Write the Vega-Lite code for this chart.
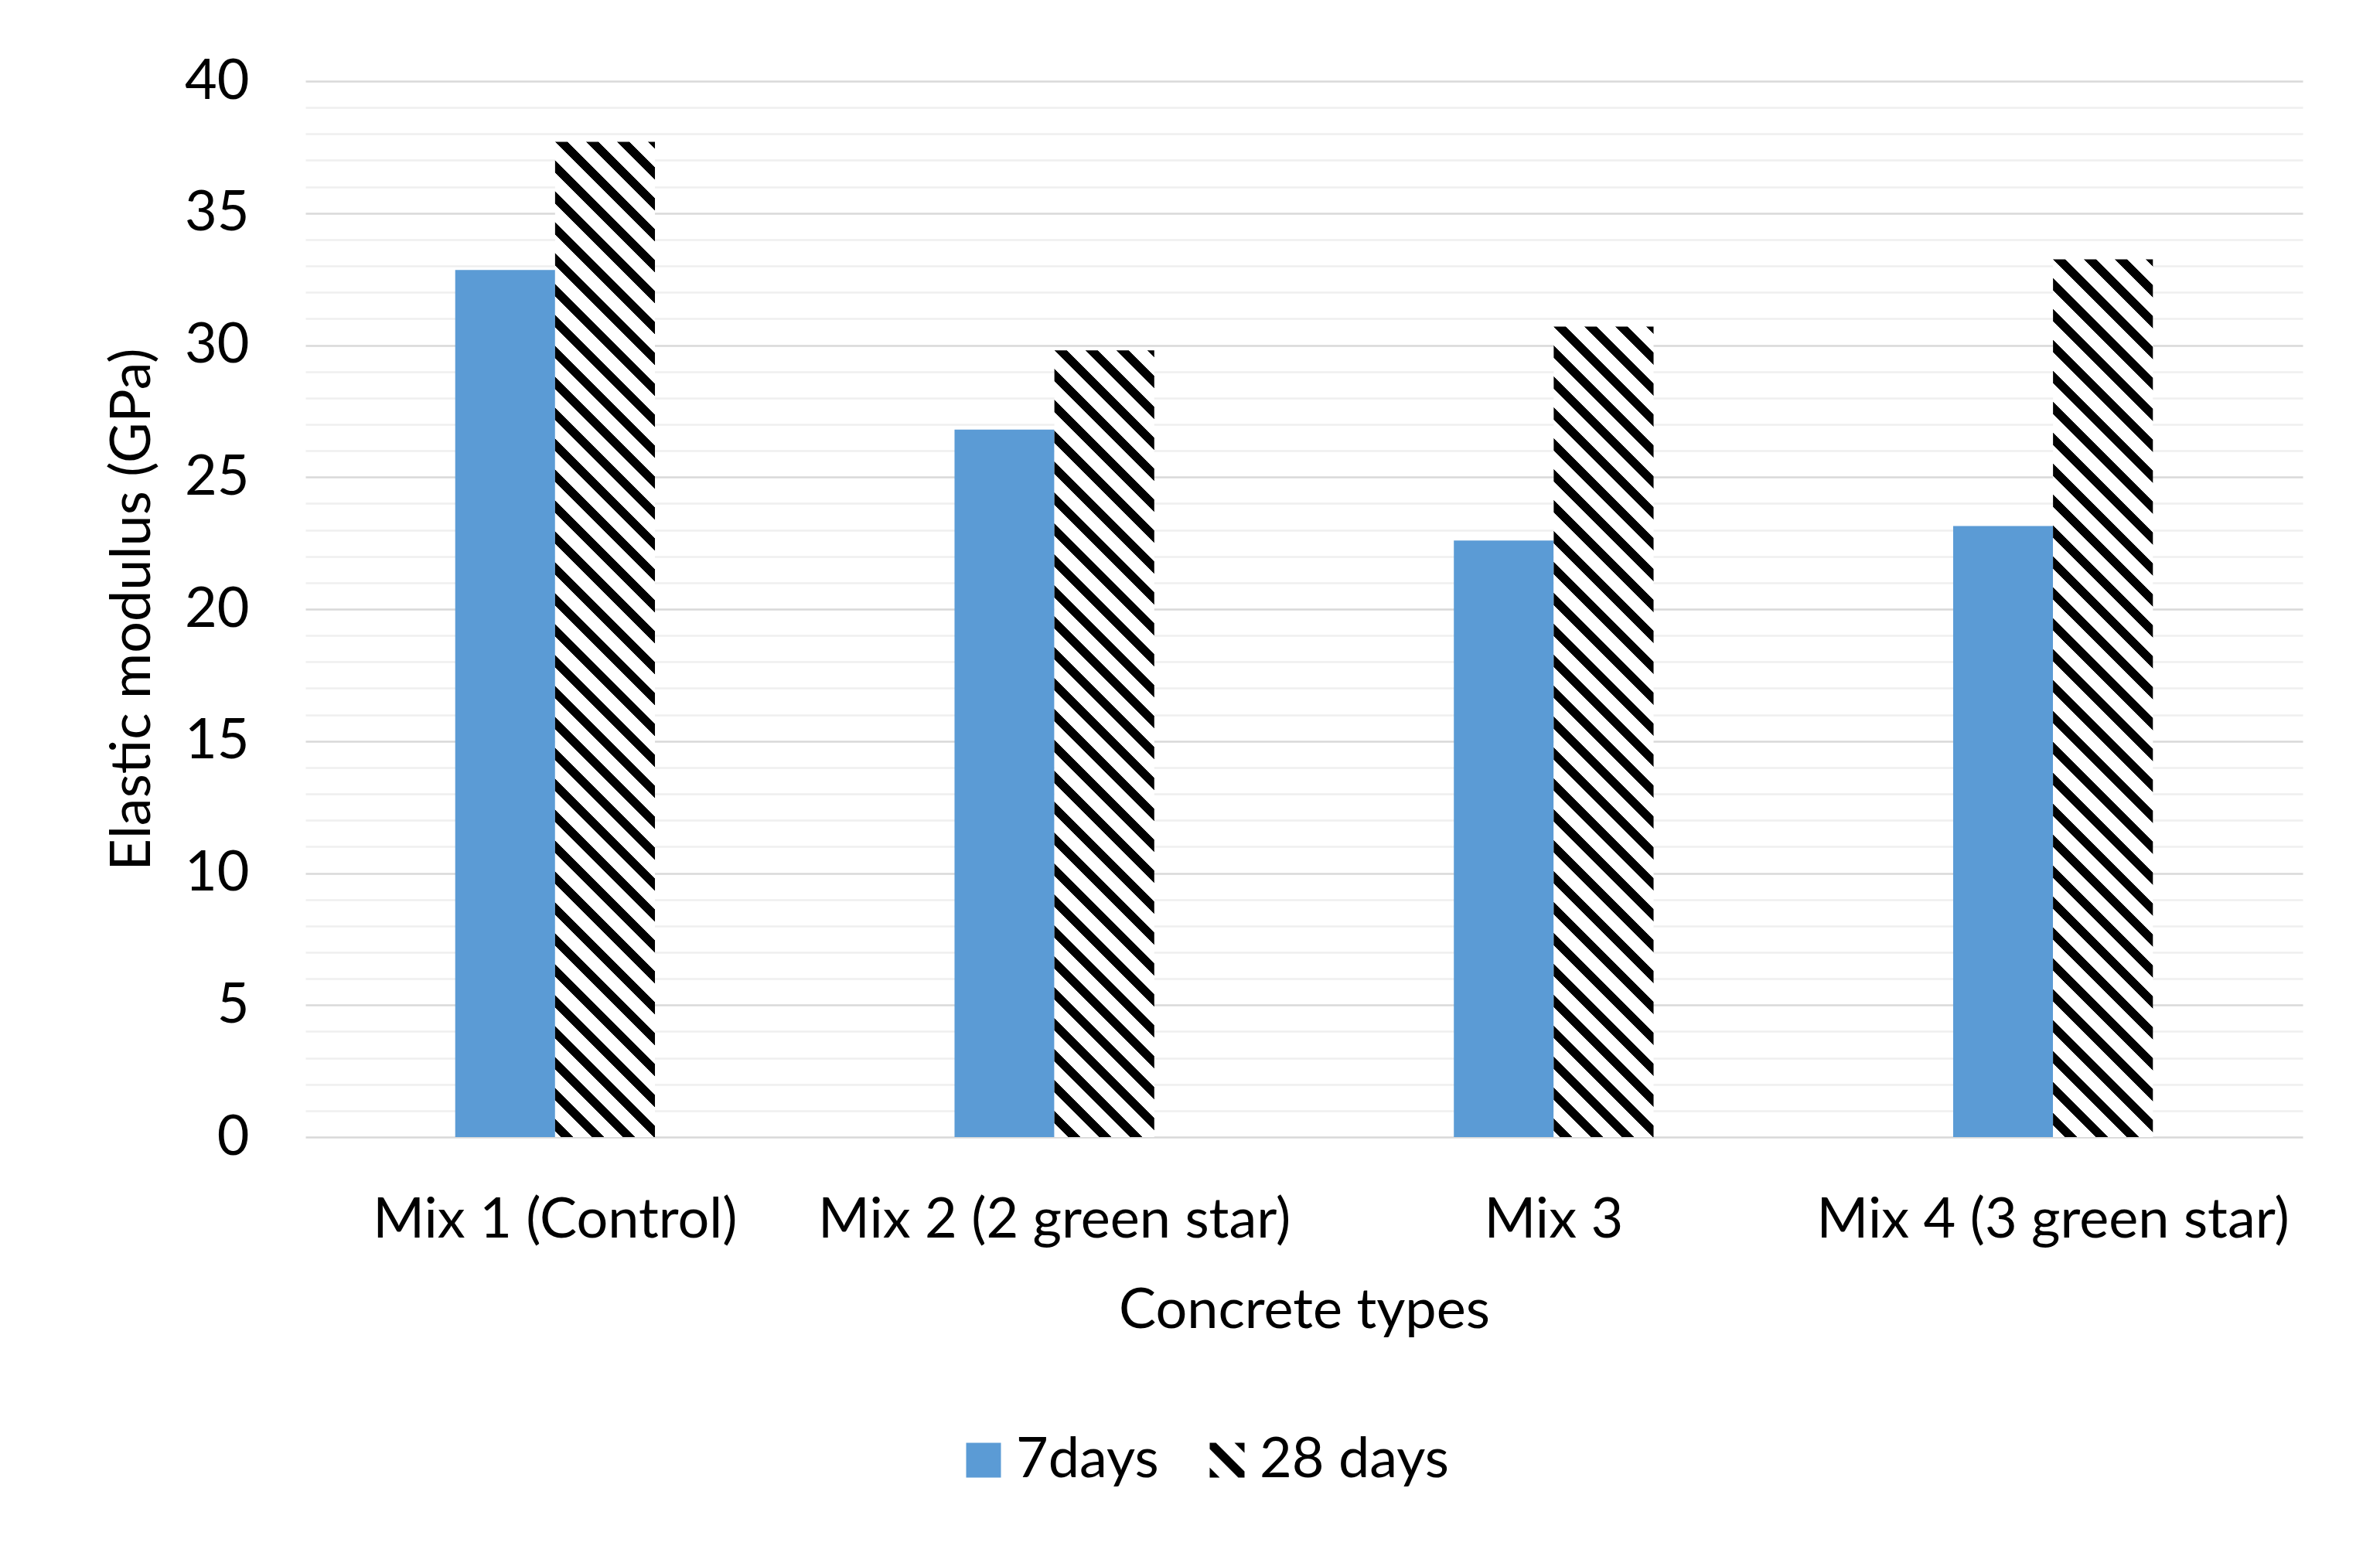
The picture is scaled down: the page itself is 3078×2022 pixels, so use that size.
{
  "$schema": "https://vega.github.io/schema/vega-lite/v6.json",
  "autosize": {"type": "none"},
  "padding": {"left": 395, "top": 105, "right": 100, "bottom": 551},
  "width": 2583,
  "height": 1366,
  "config": {
    "font": "Lato",
    "view": {"stroke": null},
    "axis": {"labelColor": "#000", "titleColor": "#000", "titleFontWeight": "normal", "labelLimit": 1000}
  },
  "data": {
    "values": [
      {"mix": "Mix 1 (Control)", "age": "7days", "modulus": 32.85},
      {"mix": "Mix 1 (Control)", "age": "28 days", "modulus": 37.7},
      {"mix": "Mix 2 (2 green star)", "age": "7days", "modulus": 26.8},
      {"mix": "Mix 2 (2 green star)", "age": "28 days", "modulus": 29.8},
      {"mix": "Mix 3", "age": "7days", "modulus": 22.6},
      {"mix": "Mix 3", "age": "28 days", "modulus": 30.7},
      {"mix": "Mix 4 (3 green star)", "age": "7days", "modulus": 23.15},
      {"mix": "Mix 4 (3 green star)", "age": "28 days", "modulus": 33.25}
    ]
  },
  "encoding": {
    "x": {
      "field": "mix",
      "type": "nominal",
      "sort": null,
      "scale": {"paddingInner": 0.6, "paddingOuter": 0.3},
      "axis": {
        "title": "Concrete types",
        "labelAngle": 0,
        "labelFontSize": 72,
        "labelPadding": 72,
        "labelOverlap": false,
        "titleFontSize": 72,
        "titlePadding": 46,
        "domain": false,
        "ticks": false,
        "tickSize": 0,
        "grid": false
      }
    },
    "xOffset": {
      "field": "age",
      "type": "nominal",
      "scale": {"domain": ["7days", "28 days"], "paddingInner": 0, "paddingOuter": 0}
    },
    "y": {
      "field": "modulus",
      "type": "quantitative",
      "scale": {"domain": [0, 40], "nice": false},
      "axis": {
        "title": "Elastic modulus (GPa)",
        "values": [0,1,2,3,4,5,6,7,8,9,10,11,12,13,14,15,16,17,18,19,20,21,22,23,24,25,26,27,28,29,30,31,32,33,34,35,36,37,38,39,40],
        "labelExpr": "datum.value % 5 === 0 ? datum.label : ''",
        "labelOverlap": false,
        "labelFontSize": 72,
        "labelPadding": 73,
        "titleFontSize": 72,
        "titlePadding": 30,
        "domain": false,
        "ticks": false,
        "tickSize": 0,
        "grid": true,
        "gridWidth": 2.5,
        "gridColor": {"condition": {"test": "datum.value % 5 === 0", "value": "#d9d9d9"}, "value": "#efefef"}
      }
    }
  },
  "layer": [
    {
      "transform": [{"filter": "datum.age === '7days'"}],
      "mark": {"type": "bar", "color": "#5b9bd5"}
    },
    {
      "transform": [{"filter": "datum.age === '28 days' && datum.mix === 'Mix 1 (Control)'"}],
      "mark": {"type": "bar", "fill": {"gradient": "linear", "x1": 0, "y1": 1.02524, "x2": 0.11416, "y2": -0.11282, "stops": [{"offset":0,"color":"#000"},{"offset":0.01081,"color":"#000"},{"offset":0.01081,"color":"#fff"},{"offset":0.02703,"color":"#fff"},{"offset":0.02703,"color":"#000"},{"offset":0.03784,"color":"#000"},{"offset":0.03784,"color":"#fff"},{"offset":0.05405,"color":"#fff"},{"offset":0.05405,"color":"#000"},{"offset":0.06486,"color":"#000"},{"offset":0.06486,"color":"#fff"},{"offset":0.08108,"color":"#fff"},{"offset":0.08108,"color":"#000"},{"offset":0.09189,"color":"#000"},{"offset":0.09189,"color":"#fff"},{"offset":0.10811,"color":"#fff"},{"offset":0.10811,"color":"#000"},{"offset":0.11892,"color":"#000"},{"offset":0.11892,"color":"#fff"},{"offset":0.13514,"color":"#fff"},{"offset":0.13514,"color":"#000"},{"offset":0.14595,"color":"#000"},{"offset":0.14595,"color":"#fff"},{"offset":0.16216,"color":"#fff"},{"offset":0.16216,"color":"#000"},{"offset":0.17297,"color":"#000"},{"offset":0.17297,"color":"#fff"},{"offset":0.18919,"color":"#fff"},{"offset":0.18919,"color":"#000"},{"offset":0.2,"color":"#000"},{"offset":0.2,"color":"#fff"},{"offset":0.21622,"color":"#fff"},{"offset":0.21622,"color":"#000"},{"offset":0.22703,"color":"#000"},{"offset":0.22703,"color":"#fff"},{"offset":0.24324,"color":"#fff"},{"offset":0.24324,"color":"#000"},{"offset":0.25405,"color":"#000"},{"offset":0.25405,"color":"#fff"},{"offset":0.27027,"color":"#fff"},{"offset":0.27027,"color":"#000"},{"offset":0.28108,"color":"#000"},{"offset":0.28108,"color":"#fff"},{"offset":0.2973,"color":"#fff"},{"offset":0.2973,"color":"#000"},{"offset":0.30811,"color":"#000"},{"offset":0.30811,"color":"#fff"},{"offset":0.32432,"color":"#fff"},{"offset":0.32432,"color":"#000"},{"offset":0.33514,"color":"#000"},{"offset":0.33514,"color":"#fff"},{"offset":0.35135,"color":"#fff"},{"offset":0.35135,"color":"#000"},{"offset":0.36216,"color":"#000"},{"offset":0.36216,"color":"#fff"},{"offset":0.37838,"color":"#fff"},{"offset":0.37838,"color":"#000"},{"offset":0.38919,"color":"#000"},{"offset":0.38919,"color":"#fff"},{"offset":0.40541,"color":"#fff"},{"offset":0.40541,"color":"#000"},{"offset":0.41622,"color":"#000"},{"offset":0.41622,"color":"#fff"},{"offset":0.43243,"color":"#fff"},{"offset":0.43243,"color":"#000"},{"offset":0.44324,"color":"#000"},{"offset":0.44324,"color":"#fff"},{"offset":0.45946,"color":"#fff"},{"offset":0.45946,"color":"#000"},{"offset":0.47027,"color":"#000"},{"offset":0.47027,"color":"#fff"},{"offset":0.48649,"color":"#fff"},{"offset":0.48649,"color":"#000"},{"offset":0.4973,"color":"#000"},{"offset":0.4973,"color":"#fff"},{"offset":0.51351,"color":"#fff"},{"offset":0.51351,"color":"#000"},{"offset":0.52432,"color":"#000"},{"offset":0.52432,"color":"#fff"},{"offset":0.54054,"color":"#fff"},{"offset":0.54054,"color":"#000"},{"offset":0.55135,"color":"#000"},{"offset":0.55135,"color":"#fff"},{"offset":0.56757,"color":"#fff"},{"offset":0.56757,"color":"#000"},{"offset":0.57838,"color":"#000"},{"offset":0.57838,"color":"#fff"},{"offset":0.59459,"color":"#fff"},{"offset":0.59459,"color":"#000"},{"offset":0.60541,"color":"#000"},{"offset":0.60541,"color":"#fff"},{"offset":0.62162,"color":"#fff"},{"offset":0.62162,"color":"#000"},{"offset":0.63243,"color":"#000"},{"offset":0.63243,"color":"#fff"},{"offset":0.64865,"color":"#fff"},{"offset":0.64865,"color":"#000"},{"offset":0.65946,"color":"#000"},{"offset":0.65946,"color":"#fff"},{"offset":0.67568,"color":"#fff"},{"offset":0.67568,"color":"#000"},{"offset":0.68649,"color":"#000"},{"offset":0.68649,"color":"#fff"},{"offset":0.7027,"color":"#fff"},{"offset":0.7027,"color":"#000"},{"offset":0.71351,"color":"#000"},{"offset":0.71351,"color":"#fff"},{"offset":0.72973,"color":"#fff"},{"offset":0.72973,"color":"#000"},{"offset":0.74054,"color":"#000"},{"offset":0.74054,"color":"#fff"},{"offset":0.75676,"color":"#fff"},{"offset":0.75676,"color":"#000"},{"offset":0.76757,"color":"#000"},{"offset":0.76757,"color":"#fff"},{"offset":0.78378,"color":"#fff"},{"offset":0.78378,"color":"#000"},{"offset":0.79459,"color":"#000"},{"offset":0.79459,"color":"#fff"},{"offset":0.81081,"color":"#fff"},{"offset":0.81081,"color":"#000"},{"offset":0.82162,"color":"#000"},{"offset":0.82162,"color":"#fff"},{"offset":0.83784,"color":"#fff"},{"offset":0.83784,"color":"#000"},{"offset":0.84865,"color":"#000"},{"offset":0.84865,"color":"#fff"},{"offset":0.86486,"color":"#fff"},{"offset":0.86486,"color":"#000"},{"offset":0.87568,"color":"#000"},{"offset":0.87568,"color":"#fff"},{"offset":0.89189,"color":"#fff"},{"offset":0.89189,"color":"#000"},{"offset":0.9027,"color":"#000"},{"offset":0.9027,"color":"#fff"},{"offset":0.91892,"color":"#fff"},{"offset":0.91892,"color":"#000"},{"offset":0.92973,"color":"#000"},{"offset":0.92973,"color":"#fff"},{"offset":0.94595,"color":"#fff"},{"offset":0.94595,"color":"#000"},{"offset":0.95676,"color":"#000"},{"offset":0.95676,"color":"#fff"},{"offset":0.97297,"color":"#fff"},{"offset":0.97297,"color":"#000"},{"offset":0.98378,"color":"#000"},{"offset":0.98378,"color":"#fff"},{"offset":1,"color":"#fff"}]}}
    },
    {
      "transform": [{"filter": "datum.age === '28 days' && datum.mix === 'Mix 2 (2 green star)'"}],
      "mark": {"type": "bar", "fill": {"gradient": "linear", "x1": 0, "y1": 1.29704, "x2": 0.18163, "y2": -0.13415, "stops": [{"offset":0,"color":"#000"},{"offset":0.01081,"color":"#000"},{"offset":0.01081,"color":"#fff"},{"offset":0.02703,"color":"#fff"},{"offset":0.02703,"color":"#000"},{"offset":0.03784,"color":"#000"},{"offset":0.03784,"color":"#fff"},{"offset":0.05405,"color":"#fff"},{"offset":0.05405,"color":"#000"},{"offset":0.06486,"color":"#000"},{"offset":0.06486,"color":"#fff"},{"offset":0.08108,"color":"#fff"},{"offset":0.08108,"color":"#000"},{"offset":0.09189,"color":"#000"},{"offset":0.09189,"color":"#fff"},{"offset":0.10811,"color":"#fff"},{"offset":0.10811,"color":"#000"},{"offset":0.11892,"color":"#000"},{"offset":0.11892,"color":"#fff"},{"offset":0.13514,"color":"#fff"},{"offset":0.13514,"color":"#000"},{"offset":0.14595,"color":"#000"},{"offset":0.14595,"color":"#fff"},{"offset":0.16216,"color":"#fff"},{"offset":0.16216,"color":"#000"},{"offset":0.17297,"color":"#000"},{"offset":0.17297,"color":"#fff"},{"offset":0.18919,"color":"#fff"},{"offset":0.18919,"color":"#000"},{"offset":0.2,"color":"#000"},{"offset":0.2,"color":"#fff"},{"offset":0.21622,"color":"#fff"},{"offset":0.21622,"color":"#000"},{"offset":0.22703,"color":"#000"},{"offset":0.22703,"color":"#fff"},{"offset":0.24324,"color":"#fff"},{"offset":0.24324,"color":"#000"},{"offset":0.25405,"color":"#000"},{"offset":0.25405,"color":"#fff"},{"offset":0.27027,"color":"#fff"},{"offset":0.27027,"color":"#000"},{"offset":0.28108,"color":"#000"},{"offset":0.28108,"color":"#fff"},{"offset":0.2973,"color":"#fff"},{"offset":0.2973,"color":"#000"},{"offset":0.30811,"color":"#000"},{"offset":0.30811,"color":"#fff"},{"offset":0.32432,"color":"#fff"},{"offset":0.32432,"color":"#000"},{"offset":0.33514,"color":"#000"},{"offset":0.33514,"color":"#fff"},{"offset":0.35135,"color":"#fff"},{"offset":0.35135,"color":"#000"},{"offset":0.36216,"color":"#000"},{"offset":0.36216,"color":"#fff"},{"offset":0.37838,"color":"#fff"},{"offset":0.37838,"color":"#000"},{"offset":0.38919,"color":"#000"},{"offset":0.38919,"color":"#fff"},{"offset":0.40541,"color":"#fff"},{"offset":0.40541,"color":"#000"},{"offset":0.41622,"color":"#000"},{"offset":0.41622,"color":"#fff"},{"offset":0.43243,"color":"#fff"},{"offset":0.43243,"color":"#000"},{"offset":0.44324,"color":"#000"},{"offset":0.44324,"color":"#fff"},{"offset":0.45946,"color":"#fff"},{"offset":0.45946,"color":"#000"},{"offset":0.47027,"color":"#000"},{"offset":0.47027,"color":"#fff"},{"offset":0.48649,"color":"#fff"},{"offset":0.48649,"color":"#000"},{"offset":0.4973,"color":"#000"},{"offset":0.4973,"color":"#fff"},{"offset":0.51351,"color":"#fff"},{"offset":0.51351,"color":"#000"},{"offset":0.52432,"color":"#000"},{"offset":0.52432,"color":"#fff"},{"offset":0.54054,"color":"#fff"},{"offset":0.54054,"color":"#000"},{"offset":0.55135,"color":"#000"},{"offset":0.55135,"color":"#fff"},{"offset":0.56757,"color":"#fff"},{"offset":0.56757,"color":"#000"},{"offset":0.57838,"color":"#000"},{"offset":0.57838,"color":"#fff"},{"offset":0.59459,"color":"#fff"},{"offset":0.59459,"color":"#000"},{"offset":0.60541,"color":"#000"},{"offset":0.60541,"color":"#fff"},{"offset":0.62162,"color":"#fff"},{"offset":0.62162,"color":"#000"},{"offset":0.63243,"color":"#000"},{"offset":0.63243,"color":"#fff"},{"offset":0.64865,"color":"#fff"},{"offset":0.64865,"color":"#000"},{"offset":0.65946,"color":"#000"},{"offset":0.65946,"color":"#fff"},{"offset":0.67568,"color":"#fff"},{"offset":0.67568,"color":"#000"},{"offset":0.68649,"color":"#000"},{"offset":0.68649,"color":"#fff"},{"offset":0.7027,"color":"#fff"},{"offset":0.7027,"color":"#000"},{"offset":0.71351,"color":"#000"},{"offset":0.71351,"color":"#fff"},{"offset":0.72973,"color":"#fff"},{"offset":0.72973,"color":"#000"},{"offset":0.74054,"color":"#000"},{"offset":0.74054,"color":"#fff"},{"offset":0.75676,"color":"#fff"},{"offset":0.75676,"color":"#000"},{"offset":0.76757,"color":"#000"},{"offset":0.76757,"color":"#fff"},{"offset":0.78378,"color":"#fff"},{"offset":0.78378,"color":"#000"},{"offset":0.79459,"color":"#000"},{"offset":0.79459,"color":"#fff"},{"offset":0.81081,"color":"#fff"},{"offset":0.81081,"color":"#000"},{"offset":0.82162,"color":"#000"},{"offset":0.82162,"color":"#fff"},{"offset":0.83784,"color":"#fff"},{"offset":0.83784,"color":"#000"},{"offset":0.84865,"color":"#000"},{"offset":0.84865,"color":"#fff"},{"offset":0.86486,"color":"#fff"},{"offset":0.86486,"color":"#000"},{"offset":0.87568,"color":"#000"},{"offset":0.87568,"color":"#fff"},{"offset":0.89189,"color":"#fff"},{"offset":0.89189,"color":"#000"},{"offset":0.9027,"color":"#000"},{"offset":0.9027,"color":"#fff"},{"offset":0.91892,"color":"#fff"},{"offset":0.91892,"color":"#000"},{"offset":0.92973,"color":"#000"},{"offset":0.92973,"color":"#fff"},{"offset":0.94595,"color":"#fff"},{"offset":0.94595,"color":"#000"},{"offset":0.95676,"color":"#000"},{"offset":0.95676,"color":"#fff"},{"offset":0.97297,"color":"#fff"},{"offset":0.97297,"color":"#000"},{"offset":0.98378,"color":"#000"},{"offset":0.98378,"color":"#fff"},{"offset":1,"color":"#fff"}]}}
    },
    {
      "transform": [{"filter": "datum.age === '28 days' && datum.mix === 'Mix 3'"}],
      "mark": {"type": "bar", "fill": {"gradient": "linear", "x1": 0, "y1": 1.25906, "x2": 0.1713, "y2": -0.13154, "stops": [{"offset":0,"color":"#000"},{"offset":0.01081,"color":"#000"},{"offset":0.01081,"color":"#fff"},{"offset":0.02703,"color":"#fff"},{"offset":0.02703,"color":"#000"},{"offset":0.03784,"color":"#000"},{"offset":0.03784,"color":"#fff"},{"offset":0.05405,"color":"#fff"},{"offset":0.05405,"color":"#000"},{"offset":0.06486,"color":"#000"},{"offset":0.06486,"color":"#fff"},{"offset":0.08108,"color":"#fff"},{"offset":0.08108,"color":"#000"},{"offset":0.09189,"color":"#000"},{"offset":0.09189,"color":"#fff"},{"offset":0.10811,"color":"#fff"},{"offset":0.10811,"color":"#000"},{"offset":0.11892,"color":"#000"},{"offset":0.11892,"color":"#fff"},{"offset":0.13514,"color":"#fff"},{"offset":0.13514,"color":"#000"},{"offset":0.14595,"color":"#000"},{"offset":0.14595,"color":"#fff"},{"offset":0.16216,"color":"#fff"},{"offset":0.16216,"color":"#000"},{"offset":0.17297,"color":"#000"},{"offset":0.17297,"color":"#fff"},{"offset":0.18919,"color":"#fff"},{"offset":0.18919,"color":"#000"},{"offset":0.2,"color":"#000"},{"offset":0.2,"color":"#fff"},{"offset":0.21622,"color":"#fff"},{"offset":0.21622,"color":"#000"},{"offset":0.22703,"color":"#000"},{"offset":0.22703,"color":"#fff"},{"offset":0.24324,"color":"#fff"},{"offset":0.24324,"color":"#000"},{"offset":0.25405,"color":"#000"},{"offset":0.25405,"color":"#fff"},{"offset":0.27027,"color":"#fff"},{"offset":0.27027,"color":"#000"},{"offset":0.28108,"color":"#000"},{"offset":0.28108,"color":"#fff"},{"offset":0.2973,"color":"#fff"},{"offset":0.2973,"color":"#000"},{"offset":0.30811,"color":"#000"},{"offset":0.30811,"color":"#fff"},{"offset":0.32432,"color":"#fff"},{"offset":0.32432,"color":"#000"},{"offset":0.33514,"color":"#000"},{"offset":0.33514,"color":"#fff"},{"offset":0.35135,"color":"#fff"},{"offset":0.35135,"color":"#000"},{"offset":0.36216,"color":"#000"},{"offset":0.36216,"color":"#fff"},{"offset":0.37838,"color":"#fff"},{"offset":0.37838,"color":"#000"},{"offset":0.38919,"color":"#000"},{"offset":0.38919,"color":"#fff"},{"offset":0.40541,"color":"#fff"},{"offset":0.40541,"color":"#000"},{"offset":0.41622,"color":"#000"},{"offset":0.41622,"color":"#fff"},{"offset":0.43243,"color":"#fff"},{"offset":0.43243,"color":"#000"},{"offset":0.44324,"color":"#000"},{"offset":0.44324,"color":"#fff"},{"offset":0.45946,"color":"#fff"},{"offset":0.45946,"color":"#000"},{"offset":0.47027,"color":"#000"},{"offset":0.47027,"color":"#fff"},{"offset":0.48649,"color":"#fff"},{"offset":0.48649,"color":"#000"},{"offset":0.4973,"color":"#000"},{"offset":0.4973,"color":"#fff"},{"offset":0.51351,"color":"#fff"},{"offset":0.51351,"color":"#000"},{"offset":0.52432,"color":"#000"},{"offset":0.52432,"color":"#fff"},{"offset":0.54054,"color":"#fff"},{"offset":0.54054,"color":"#000"},{"offset":0.55135,"color":"#000"},{"offset":0.55135,"color":"#fff"},{"offset":0.56757,"color":"#fff"},{"offset":0.56757,"color":"#000"},{"offset":0.57838,"color":"#000"},{"offset":0.57838,"color":"#fff"},{"offset":0.59459,"color":"#fff"},{"offset":0.59459,"color":"#000"},{"offset":0.60541,"color":"#000"},{"offset":0.60541,"color":"#fff"},{"offset":0.62162,"color":"#fff"},{"offset":0.62162,"color":"#000"},{"offset":0.63243,"color":"#000"},{"offset":0.63243,"color":"#fff"},{"offset":0.64865,"color":"#fff"},{"offset":0.64865,"color":"#000"},{"offset":0.65946,"color":"#000"},{"offset":0.65946,"color":"#fff"},{"offset":0.67568,"color":"#fff"},{"offset":0.67568,"color":"#000"},{"offset":0.68649,"color":"#000"},{"offset":0.68649,"color":"#fff"},{"offset":0.7027,"color":"#fff"},{"offset":0.7027,"color":"#000"},{"offset":0.71351,"color":"#000"},{"offset":0.71351,"color":"#fff"},{"offset":0.72973,"color":"#fff"},{"offset":0.72973,"color":"#000"},{"offset":0.74054,"color":"#000"},{"offset":0.74054,"color":"#fff"},{"offset":0.75676,"color":"#fff"},{"offset":0.75676,"color":"#000"},{"offset":0.76757,"color":"#000"},{"offset":0.76757,"color":"#fff"},{"offset":0.78378,"color":"#fff"},{"offset":0.78378,"color":"#000"},{"offset":0.79459,"color":"#000"},{"offset":0.79459,"color":"#fff"},{"offset":0.81081,"color":"#fff"},{"offset":0.81081,"color":"#000"},{"offset":0.82162,"color":"#000"},{"offset":0.82162,"color":"#fff"},{"offset":0.83784,"color":"#fff"},{"offset":0.83784,"color":"#000"},{"offset":0.84865,"color":"#000"},{"offset":0.84865,"color":"#fff"},{"offset":0.86486,"color":"#fff"},{"offset":0.86486,"color":"#000"},{"offset":0.87568,"color":"#000"},{"offset":0.87568,"color":"#fff"},{"offset":0.89189,"color":"#fff"},{"offset":0.89189,"color":"#000"},{"offset":0.9027,"color":"#000"},{"offset":0.9027,"color":"#fff"},{"offset":0.91892,"color":"#fff"},{"offset":0.91892,"color":"#000"},{"offset":0.92973,"color":"#000"},{"offset":0.92973,"color":"#fff"},{"offset":0.94595,"color":"#fff"},{"offset":0.94595,"color":"#000"},{"offset":0.95676,"color":"#000"},{"offset":0.95676,"color":"#fff"},{"offset":0.97297,"color":"#fff"},{"offset":0.97297,"color":"#000"},{"offset":0.98378,"color":"#000"},{"offset":0.98378,"color":"#fff"},{"offset":1,"color":"#fff"}]}}
    },
    {
      "transform": [{"filter": "datum.age === '28 days' && datum.mix === 'Mix 4 (3 green star)'"}],
      "mark": {"type": "bar", "fill": {"gradient": "linear", "x1": 0, "y1": 1.16248, "x2": 0.14635, "y2": -0.12427, "stops": [{"offset":0,"color":"#000"},{"offset":0.01081,"color":"#000"},{"offset":0.01081,"color":"#fff"},{"offset":0.02703,"color":"#fff"},{"offset":0.02703,"color":"#000"},{"offset":0.03784,"color":"#000"},{"offset":0.03784,"color":"#fff"},{"offset":0.05405,"color":"#fff"},{"offset":0.05405,"color":"#000"},{"offset":0.06486,"color":"#000"},{"offset":0.06486,"color":"#fff"},{"offset":0.08108,"color":"#fff"},{"offset":0.08108,"color":"#000"},{"offset":0.09189,"color":"#000"},{"offset":0.09189,"color":"#fff"},{"offset":0.10811,"color":"#fff"},{"offset":0.10811,"color":"#000"},{"offset":0.11892,"color":"#000"},{"offset":0.11892,"color":"#fff"},{"offset":0.13514,"color":"#fff"},{"offset":0.13514,"color":"#000"},{"offset":0.14595,"color":"#000"},{"offset":0.14595,"color":"#fff"},{"offset":0.16216,"color":"#fff"},{"offset":0.16216,"color":"#000"},{"offset":0.17297,"color":"#000"},{"offset":0.17297,"color":"#fff"},{"offset":0.18919,"color":"#fff"},{"offset":0.18919,"color":"#000"},{"offset":0.2,"color":"#000"},{"offset":0.2,"color":"#fff"},{"offset":0.21622,"color":"#fff"},{"offset":0.21622,"color":"#000"},{"offset":0.22703,"color":"#000"},{"offset":0.22703,"color":"#fff"},{"offset":0.24324,"color":"#fff"},{"offset":0.24324,"color":"#000"},{"offset":0.25405,"color":"#000"},{"offset":0.25405,"color":"#fff"},{"offset":0.27027,"color":"#fff"},{"offset":0.27027,"color":"#000"},{"offset":0.28108,"color":"#000"},{"offset":0.28108,"color":"#fff"},{"offset":0.2973,"color":"#fff"},{"offset":0.2973,"color":"#000"},{"offset":0.30811,"color":"#000"},{"offset":0.30811,"color":"#fff"},{"offset":0.32432,"color":"#fff"},{"offset":0.32432,"color":"#000"},{"offset":0.33514,"color":"#000"},{"offset":0.33514,"color":"#fff"},{"offset":0.35135,"color":"#fff"},{"offset":0.35135,"color":"#000"},{"offset":0.36216,"color":"#000"},{"offset":0.36216,"color":"#fff"},{"offset":0.37838,"color":"#fff"},{"offset":0.37838,"color":"#000"},{"offset":0.38919,"color":"#000"},{"offset":0.38919,"color":"#fff"},{"offset":0.40541,"color":"#fff"},{"offset":0.40541,"color":"#000"},{"offset":0.41622,"color":"#000"},{"offset":0.41622,"color":"#fff"},{"offset":0.43243,"color":"#fff"},{"offset":0.43243,"color":"#000"},{"offset":0.44324,"color":"#000"},{"offset":0.44324,"color":"#fff"},{"offset":0.45946,"color":"#fff"},{"offset":0.45946,"color":"#000"},{"offset":0.47027,"color":"#000"},{"offset":0.47027,"color":"#fff"},{"offset":0.48649,"color":"#fff"},{"offset":0.48649,"color":"#000"},{"offset":0.4973,"color":"#000"},{"offset":0.4973,"color":"#fff"},{"offset":0.51351,"color":"#fff"},{"offset":0.51351,"color":"#000"},{"offset":0.52432,"color":"#000"},{"offset":0.52432,"color":"#fff"},{"offset":0.54054,"color":"#fff"},{"offset":0.54054,"color":"#000"},{"offset":0.55135,"color":"#000"},{"offset":0.55135,"color":"#fff"},{"offset":0.56757,"color":"#fff"},{"offset":0.56757,"color":"#000"},{"offset":0.57838,"color":"#000"},{"offset":0.57838,"color":"#fff"},{"offset":0.59459,"color":"#fff"},{"offset":0.59459,"color":"#000"},{"offset":0.60541,"color":"#000"},{"offset":0.60541,"color":"#fff"},{"offset":0.62162,"color":"#fff"},{"offset":0.62162,"color":"#000"},{"offset":0.63243,"color":"#000"},{"offset":0.63243,"color":"#fff"},{"offset":0.64865,"color":"#fff"},{"offset":0.64865,"color":"#000"},{"offset":0.65946,"color":"#000"},{"offset":0.65946,"color":"#fff"},{"offset":0.67568,"color":"#fff"},{"offset":0.67568,"color":"#000"},{"offset":0.68649,"color":"#000"},{"offset":0.68649,"color":"#fff"},{"offset":0.7027,"color":"#fff"},{"offset":0.7027,"color":"#000"},{"offset":0.71351,"color":"#000"},{"offset":0.71351,"color":"#fff"},{"offset":0.72973,"color":"#fff"},{"offset":0.72973,"color":"#000"},{"offset":0.74054,"color":"#000"},{"offset":0.74054,"color":"#fff"},{"offset":0.75676,"color":"#fff"},{"offset":0.75676,"color":"#000"},{"offset":0.76757,"color":"#000"},{"offset":0.76757,"color":"#fff"},{"offset":0.78378,"color":"#fff"},{"offset":0.78378,"color":"#000"},{"offset":0.79459,"color":"#000"},{"offset":0.79459,"color":"#fff"},{"offset":0.81081,"color":"#fff"},{"offset":0.81081,"color":"#000"},{"offset":0.82162,"color":"#000"},{"offset":0.82162,"color":"#fff"},{"offset":0.83784,"color":"#fff"},{"offset":0.83784,"color":"#000"},{"offset":0.84865,"color":"#000"},{"offset":0.84865,"color":"#fff"},{"offset":0.86486,"color":"#fff"},{"offset":0.86486,"color":"#000"},{"offset":0.87568,"color":"#000"},{"offset":0.87568,"color":"#fff"},{"offset":0.89189,"color":"#fff"},{"offset":0.89189,"color":"#000"},{"offset":0.9027,"color":"#000"},{"offset":0.9027,"color":"#fff"},{"offset":0.91892,"color":"#fff"},{"offset":0.91892,"color":"#000"},{"offset":0.92973,"color":"#000"},{"offset":0.92973,"color":"#fff"},{"offset":0.94595,"color":"#fff"},{"offset":0.94595,"color":"#000"},{"offset":0.95676,"color":"#000"},{"offset":0.95676,"color":"#fff"},{"offset":0.97297,"color":"#fff"},{"offset":0.97297,"color":"#000"},{"offset":0.98378,"color":"#000"},{"offset":0.98378,"color":"#fff"},{"offset":1,"color":"#fff"}]}}
    },
    {
      "mark": {"type": "point", "filled": true, "opacity": 0, "size": 1},
      "encoding": {
        "color": {
          "field": "age",
          "type": "nominal",
          "scale": {"domain": ["7days", "28 days"], "range": ["#5b9bd5", "#000"]},
          "legend": {
            "title": null,
            "orient": "none",
            "direction": "horizontal",
            "legendX": 841,
            "legendY": 1748,
            "padding": 0,
            "labelFontSize": 72,
            "labelColor": "#000",
            "labelLimit": 1000,
            "labelOffset": 6,
            "columnPadding": 52,
            "symbolSize": 2025,
            "symbolOpacity": 1,
            "symbolStrokeWidth": 0
          }
        },
        "shape": {
          "field": "age",
          "type": "nominal",
          "scale": {
            "domain": ["7days", "28 days"],
            "range": ["square", "M-1,-1L-0.644,-1L1,0.644L1,1L0.644,1L-1,-0.644Z M0.422,-1L1,-1L1,-0.422Z M-1,0.422L-0.422,1L-1,1Z"]
          },
          "legend": {
            "title": null,
            "orient": "none",
            "direction": "horizontal",
            "legendX": 841,
            "legendY": 1748,
            "padding": 0,
            "labelFontSize": 72,
            "labelColor": "#000",
            "labelLimit": 1000,
            "labelOffset": 6,
            "columnPadding": 52,
            "symbolSize": 2025,
            "symbolOpacity": 1,
            "symbolStrokeWidth": 0
          }
        }
      }
    }
  ]
}
